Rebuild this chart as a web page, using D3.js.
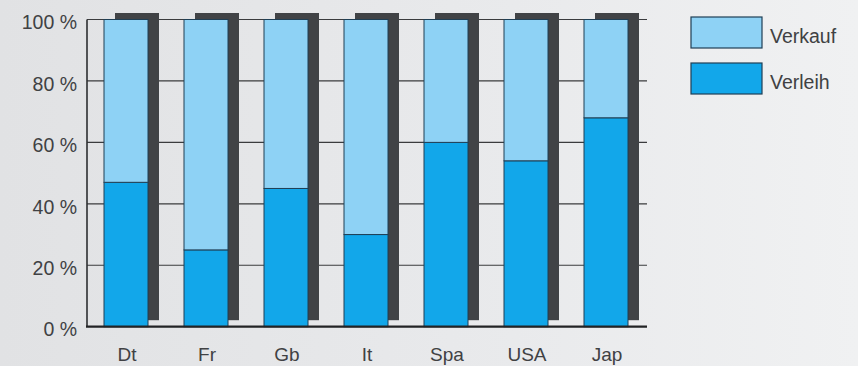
<!DOCTYPE html>
<html>
<head>
<meta charset="utf-8">
<script src="https://cdn.jsdelivr.net/npm/d3@7"></script>
<style>
  html, body { margin: 0; padding: 0; }
  body { width: 858px; height: 366px; overflow: hidden; }
  svg { display: block; }
  text { font-family: "Liberation Sans", Arial, sans-serif; fill: #404143; }
</style>
</head>
<body>
<svg id="chart" width="858" height="366"></svg>
<script>
// Anteil von Verleih und Verkauf je Land (in Prozent)
const categories = ["Dt", "Fr", "Gb", "It", "Spa", "USA", "Jap"];
const verleih = [47, 25, 45, 30, 60, 54, 68];
const verkauf = [53, 75, 55, 70, 40, 46, 32];
const seriesNames = ["Verleih", "Verkauf"];
const yTicks = [0, 20, 40, 60, 80, 100];

const colors = { Verleih: "#12a7ea", Verkauf: "#8ed2f5" };

const W = 858, H = 366;
const svg = d3.select("#chart");

// background with a slight left-to-right lightening
const defs = svg.append("defs");
const grad = defs.append("linearGradient").attr("id", "bg").attr("x1", 0).attr("x2", 1).attr("y1", 0).attr("y2", 0);
grad.append("stop").attr("offset", "0%").attr("stop-color", "#e1e2e4");
grad.append("stop").attr("offset", "60%").attr("stop-color", "#e9eaec");
grad.append("stop").attr("offset", "100%").attr("stop-color", "#f0f1f2");
svg.append("rect").attr("width", W).attr("height", H).attr("fill", "url(#bg)");

const x = d3.scaleBand()
  .domain(categories)
  .range([86, 646])
  .paddingInner(0.45)
  .paddingOuter(0.225);

const y = d3.scaleLinear()
  .domain([0, 100])
  .range([326.7, 19.5]);

// table for the stack layout
const table = categories.map((c, i) => ({ cat: c, Verleih: verleih[i], Verkauf: verkauf[i] }));
const stacked = d3.stack().keys(seriesNames)(table);

// gridlines across the whole plot (bars and their shadows cover them)
svg.append("g")
  .selectAll("line")
  .data(yTicks.filter(t => t > 0))
  .join("line")
  .attr("x1", x.range()[0] + 1)
  .attr("x2", x.range()[1] + 1)
  .attr("y1", d => y(d))
  .attr("y2", d => y(d))
  .attr("stroke", "#3a3b3d")
  .attr("stroke-width", 1.2);

// dark depth block behind each bar
const dx = 11, dy = -6.5;
svg.append("g")
  .selectAll("rect")
  .data(table)
  .join("rect")
  .attr("x", d => x(d.cat) + dx)
  .attr("y", y(100) + dy)
  .attr("width", x.bandwidth())
  .attr("height", y(0) - y(100))
  .attr("fill", "#414346");

// stacked segments
svg.append("g")
  .selectAll("g")
  .data(stacked)
  .join("g")
  .attr("fill", s => colors[s.key])
  .selectAll("rect")
  .data(s => s)
  .join("rect")
  .attr("x", d => x(d.data.cat))
  .attr("y", d => y(d[1]))
  .attr("width", x.bandwidth())
  .attr("height", d => y(d[0]) - y(d[1]))
  .attr("stroke", "#1f3f55")
  .attr("stroke-width", 1);

// y axis line and baseline
svg.append("line")
  .attr("x1", 87).attr("x2", 87)
  .attr("y1", y(100)).attr("y2", y(0))
  .attr("stroke", "#2e2f31").attr("stroke-width", 1.6);
svg.append("line")
  .attr("x1", 86).attr("x2", x.range()[1] + 1)
  .attr("y1", y(0)).attr("y2", y(0))
  .attr("stroke", "#222325").attr("stroke-width", 2.2);

// y tick labels
const yAxis = d3.axisLeft(y).tickValues(yTicks).tickFormat(d => d + " %").tickSize(0).tickPadding(10);
const ya = svg.append("g").attr("transform", "translate(87,3)").call(yAxis);
ya.select(".domain").remove();
ya.selectAll("text")
  .attr("font-family", "'Liberation Sans', Arial, sans-serif")
  .attr("font-size", 19.5)
  .attr("fill", "#404143");

// category labels
const xAxis = d3.axisBottom(x).tickSize(0).tickPadding(0);
const xa = svg.append("g").attr("transform", `translate(0,${y(0)})`).call(xAxis);
xa.select(".domain").remove();
xa.selectAll("text")
  .attr("y", 0)
  .attr("dy", 0)
  .attr("transform", "translate(1,34)")
  .attr("font-family", "'Liberation Sans', Arial, sans-serif")
  .attr("font-size", 19)
  .attr("fill", "#404143");

// legend
const legendItems = ["Verkauf", "Verleih"];
const lg = svg.append("g").attr("transform", "translate(691,17)");
const li = lg.selectAll("g").data(legendItems).join("g")
  .attr("transform", (d, i) => `translate(0,${i * 46})`);
li.append("rect")
  .attr("width", 71).attr("height", 31)
  .attr("fill", d => colors[d])
  .attr("stroke", "#1f3f55").attr("stroke-width", 1.2);
li.append("text")
  .attr("x", 79).attr("y", 26)
  .attr("font-size", 19.5)
  .text(d => d);
</script>
</body>
</html>
